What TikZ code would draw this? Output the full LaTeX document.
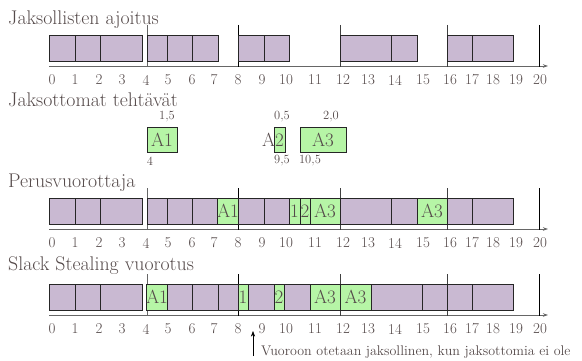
\documentclass[tikz,border=0pt]{standalone}
\usetikzlibrary{arrows.meta}
\definecolor{cper}{HTML}{C9B9D2}
\definecolor{cap}{HTML}{B6F5A6}
\definecolor{ctext}{HTML}{554A4A}
\tikzset{
  rowtitle/.style={anchor=base west,inner sep=0pt,text=ctext,font=\fontsize{19.8}{23}\selectfont},
  slot/.style={draw=black!85,line width=0.9pt,minimum height=26pt,inner sep=0pt,
    text=ctext,font=\fontsize{19}{22}\selectfont},
  num/.style={inner sep=0pt,text=ctext,font=\fontsize{15}{18}\selectfont},
  small/.style={inner sep=0pt,text=ctext,font=\fontsize{12.5}{15}\selectfont},
  note/.style={inner sep=0pt,text=ctext,font=\fontsize{14}{17}\selectfont},
  axis/.style={draw=black!60,line width=0.8pt,-{Stealth[length=5pt,width=3.5pt]}},
  cutline/.style={line width=0.9pt},
  >=Stealth
}

\begin{document}
\begin{tikzpicture}[x=1pt,y=-1pt]
  \useasboundingbox (0,0) rectangle (582,361);

  % otsikot
  \node[rowtitle] (t1) at (8,25) {Jaksollisten ajoitus};
  \node[rowtitle] (t2) at (8,107) {Jaksottomat tehtävät};
  \node[rowtitle] (t3) at (8,188) {Perusvuorottaja};
  \node[rowtitle] (t4) at (8,270) {Slack Stealing vuorotus};

  % aika-akselit, jaksorajat ja numerot
  \foreach \r/\y in {1/35,3/198,4/284}{
    \begin{scope}[shift={(0,\y)}]
      \coordinate (ax\r s) at (49,31);
      \coordinate (ax\r e) at (548,31);
      \draw[axis] (ax\r s) -- (ax\r e);
      \foreach \px/\c in {147/black!60,238/black,340/black!75,447/black!75,539/black}{
        \coordinate (c\r-\px a) at (\px,-10);
        \coordinate (c\r-\px b) at (\px,32);
        \draw[cutline,draw=\c] (c\r-\px a) -- (c\r-\px b);
      }
      \foreach \t/\px in {0/52,1/75,2/99,3/122,4/146,5/168,6/192,7/214,8/238,9/262,10/286,
          11/315,12/343,13/368,14/395,15/423,16/450,17/472,18/493,19/516,20/540}
        \node[num] (n\r-\t) at (\px,45) {\t};
    \end{scope}
  }

  % jaksolliset
  \begin{scope}[shift={(0,35)}]
    \foreach \a/\b [count=\i] in {49/75,75/100,100/142,147/167,167/192,192/218,238/264,264/289,
        340/391,391/417,447/472,472/513}
      \node[slot,fill=cper,minimum width={(\b-\a)*1pt}] (p1-\i) at ({(\a+\b)/2},13) {};
  \end{scope}

  % jaksottomat
  \node[slot,fill=cap,minimum width=30pt,minimum height=25pt] (a1) at (162,139.5) {A1};
  \node[slot,fill=cap,minimum width=11pt,minimum height=25pt] (a2) at (279.5,139.5) {};
  \node[text=ctext,font=\fontsize{19}{22}\selectfont,inner sep=0pt] (a2t) at (273,140) {A2};
  \node[slot,fill=cap,minimum width=46pt,minimum height=25pt] (a3) at (323,139.5) {A3};
  \node[small] (a1c) at (167,117) {1,5};
  \node[small] (a1r) at (150,161) {4};
  \node[small] (a2c) at (282,117) {0,5};
  \node[small] (a2r) at (282,161) {9,5};
  \node[small] (a3c) at (331,117) {2,0};
  \node[small] (a3r) at (310,161) {10,5};

  % perusvuorottaja
  \begin{scope}[shift={(0,198)}]
    \foreach \a/\b/\f/\t [count=\i] in {49/75/cper/,75/100/cper/,100/142/cper/,147/167/cper/,
        167/192/cper/,192/218/cper/,218/238/cap/A1,238/264/cper/,264/289/cper/,289/300/cap/1,
        300/310/cap/2,310/340/cap/A3,340/391/cper/,391/417/cper/,417/447/cap/A3,447/472/cper/,
        472/513/cper/}
      \node[slot,fill=\f,minimum width={(\b-\a)*1pt}] (p3-\i) at ({(\a+\b)/2},13) {\t};
  \end{scope}

  % slack stealing
  \begin{scope}[shift={(0,284)}]
    \foreach \a/\b/\f/\t [count=\i] in {49/75/cper/,75/100/cper/,100/142/cper/,147/167/cap/A1,
        167/192/cper/,192/218/cper/,218/238/cper/,238/248/cap/1,248/274/cper/,274/284/cap/2,
        284/310/cper/,310/340/cap/A3,340/371/cap/A3,371/422/cper/,422/447/cper/,447/472/cper/,
        472/513/cper/}
      \node[slot,fill=\f,minimum width={(\b-\a)*1pt}] (p4-\i) at ({(\a+\b)/2},13) {\t};
  \end{scope}

  % huomautus
  \node[note,anchor=base west] (vuoro) at (261,355) {Vuoroon otetaan jaksollinen, kun jaksottomia ei ole};
  \coordinate (tail) at (253,356);
  \coordinate (tip) at (253,331);
  \draw[->,line width=0.6pt] (tail) -- (tip);
\end{tikzpicture}
\end{document}
